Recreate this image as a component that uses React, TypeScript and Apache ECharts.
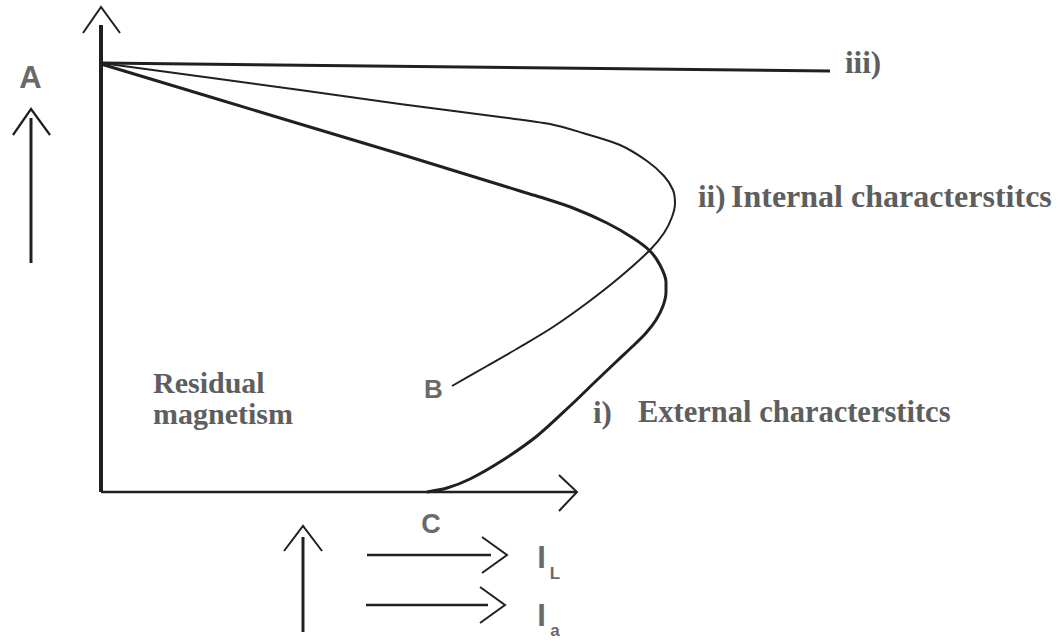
import React, { useEffect, useRef } from "react";
import * as echarts from "echarts";

// Units: x = current (load / armature), y = terminal voltage; origin at the axes' corner.
const lineIII: number[][] = [[0, 42.9], [72.9, 42.1]];

const curveII: number[][] = [
  [0, 42.9], [19.9, 40.2], [29.9, 38.8], [39.9, 37.5], [44.9, 36.8], [48.2, 35.9],
  [51.9, 34.7], [54.6, 33.1], [56.3, 31.6], [57.2, 30.2], [57.4, 28.9], [57.1, 27.5],
  [56.3, 25.9], [54.9, 24.2], [51.9, 21.5], [48.6, 18.9], [45.2, 16.5], [41.9, 14.5],
  [38.6, 12.6], [35.1, 10.6],
];

const curveI: number[][] = [
  [0, 42.8], [19.9, 36.8], [29.9, 33.8], [41.9, 30.1], [43.9, 29.5], [47.2, 28.4],
  [50.6, 26.9], [53.2, 25.4], [54.9, 24.1], [55.9, 22.7], [56.5, 21.0], [56.5, 20.0],
  [56.2, 18.6], [55.5, 17.2], [54.5, 15.9], [53.2, 14.6], [51.6, 13.1], [49.6, 11.2],
  [46.9, 8.6], [43.6, 5.6], [40.2, 3.2], [36.9, 1.3], [34.6, 0.4], [32.6, 0],
];

const yAxisShaft: number[][] = [[0, 0], [0, 46.7]];
const yAxisHead: number[][] = [[-1.8, 45.9], [0, 48.5], [1.9, 45.9]];
const xAxisShaft: number[][] = [[0, 0], [47.6, 0]];
const xAxisHead: number[][] = [[45.8, 1.7], [47.6, 0], [45.8, -1.9]];

const voltArrowShaft: number[][] = [[-7.0, 22.9], [-7.0, 37.4]];
const voltArrowHead: number[][] = [[-8.8, 35.7], [-7.0, 38.3], [-5.1, 35.7]];

const upArrowShaft: number[][] = [[20.2, -14.0], [20.2, -4.5]];
const upArrowHead: number[][] = [[18.3, -5.9], [20.2, -3.4], [22.1, -5.9]];

const iLArrowShaft: number[][] = [[26.6, -6.3], [39.0, -6.3]];
const iLArrowHead: number[][] = [[38.1, -4.5], [40.6, -6.3], [38.1, -8.1]];
const iaArrowShaft: number[][] = [[26.5, -11.3], [38.7, -11.3]];
const iaArrowHead: number[][] = [[37.9, -9.5], [40.4, -11.3], [37.9, -13.1]];

const INK = "#231f20";
const GREY = "#5e5e5e";
const SANS_GREY = "#6a6a6a";

function lineSeries(data: number[][], width: number, smooth: number | boolean = false) {
  return {
    type: "line",
    data,
    smooth,
    symbol: "none",
    showSymbol: false,
    silent: true,
    clip: false,
    lineStyle: { color: INK, width, cap: "butt", join: "miter" },
  };
}

function serifText(text: string, x: number, y: number, size = 31) {
  return {
    type: "text",
    x,
    y,
    silent: true,
    style: {
      text,
      fill: GREY,
      font: `bold ${size}px "Liberation Serif", "Times New Roman", serif`,
      textAlign: "left",
      textVerticalAlign: "middle",
      verticalAlign: "middle",
    },
  };
}

function sansText(text: string, x: number, y: number, size: number) {
  return {
    type: "text",
    x,
    y,
    silent: true,
    style: {
      text,
      fill: SANS_GREY,
      font: `bold ${size}px "Liberation Sans", Arial, sans-serif`,
      textAlign: "center",
      textVerticalAlign: "middle",
      verticalAlign: "middle",
    },
  };
}

export default function App() {
  const ref = useRef<HTMLDivElement>(null);

  useEffect(() => {
    document.body.style.margin = "0";
    if (!ref.current) return;
    const chart = echarts.init(ref.current, undefined, { renderer: "svg" });
    chart.setOption({
      animation: false,
      backgroundColor: "#ffffff",
      grid: { left: 0, right: 0, top: 0, bottom: 0 },
      xAxis: { type: "value", min: -10.1, max: 96.1, show: false },
      yAxis: { type: "value", min: -15, max: 49.2, show: false },
      series: [
        lineSeries(yAxisShaft, 4),
        lineSeries(yAxisHead, 2),
        lineSeries(xAxisShaft, 2.5),
        lineSeries(xAxisHead, 2),
        lineSeries(voltArrowShaft, 3),
        lineSeries(voltArrowHead, 2.2),
        lineSeries(upArrowShaft, 3),
        lineSeries(upArrowHead, 2),
        lineSeries(iLArrowShaft, 2.5),
        lineSeries(iLArrowHead, 2),
        lineSeries(iaArrowShaft, 2.5),
        lineSeries(iaArrowHead, 2),
        lineSeries(lineIII, 3),
        lineSeries(curveII, 2, 0.3),
        lineSeries(curveI, 3, 0.3),
      ],
      graphic: [
        serifText("iii)", 845, 62),
        serifText("ii)", 698, 196),
        serifText("Internal characterstitcs", 731, 196, 32),
        serifText("i)", 593, 412),
        serifText("External characterstitcs", 638, 412, 30.5),
        serifText("Residual", 153, 382, 30),
        serifText("magnetism", 153, 413, 30),
        sansText("A", 30.5, 77, 31),
        sansText("B", 433.5, 389, 26),
        sansText("C", 431, 524, 27),
        sansText("I", 541.5, 557, 31),
        sansText("L", 555, 573, 17),
        sansText("I", 541.5, 615, 31),
        sansText("a", 555, 630, 17),
      ],
    });
    return () => chart.dispose();
  }, []);

  return (
    <div
      ref={ref}
      style={{ position: "absolute", left: 0, top: 0, width: 1062, height: 642, background: "#fff" }}
    />
  );
}
